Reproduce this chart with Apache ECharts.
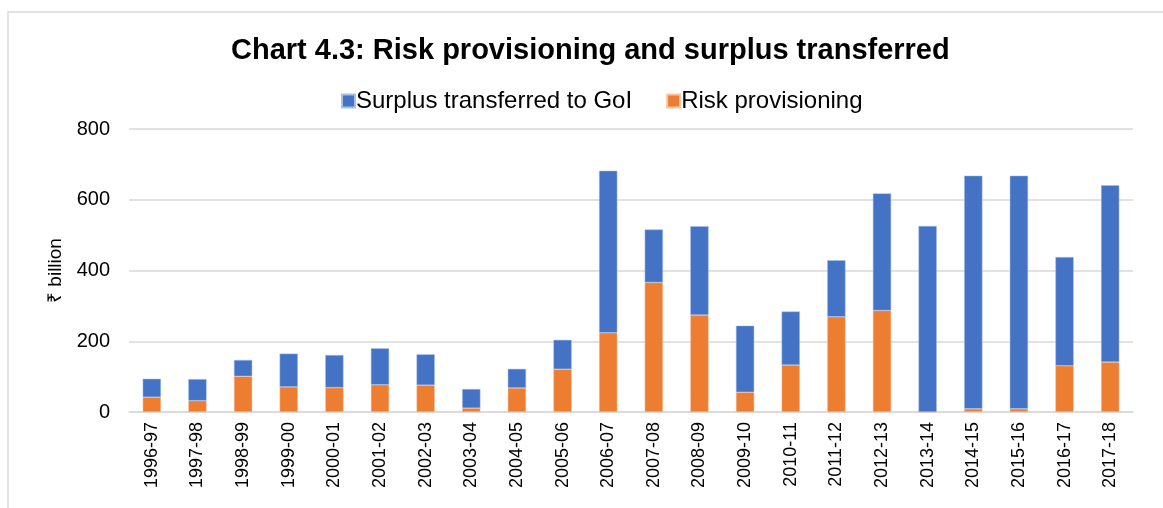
<!DOCTYPE html>
<html>
<head>
<meta charset="utf-8">
<script src="https://cdn.jsdelivr.net/npm/echarts@6/dist/echarts.min.js"></script>
<style>
html,body{margin:0;padding:0;background:#fff;}
#chart{width:1163px;height:508px;}
</style>
</head>
<body>
<div id="chart"></div>
<script>
const categories = ["1996-97","1997-98","1998-99","1999-00","2000-01","2001-02","2002-03","2003-04","2004-05","2005-06","2006-07","2007-08","2008-09","2009-10","2010-11","2011-12","2012-13","2013-14","2014-15","2015-16","2016-17","2017-18"];
const riskProvisioning = [42,32,101,71,69,77,76,11,68,121,224,366,274,56,133,269,287,0,9,9,131,141];
const surplusTransferred = [52,61,46,94,92,103,87,54,54,83,458,150,251,188,151,160,331,526,659,659,307,500];
const yTicks = [0,200,400,600,800];

const chart = echarts.init(document.getElementById('chart'), null, {renderer:'canvas'});
const font = 'Arial, "Liberation Sans", sans-serif';
chart.setOption({
  animation:false,
  backgroundColor:'#fff',
  graphic:[{type:'rect',shape:{x:8,y:12,width:1170,height:520},style:{fill:'none',stroke:'#d9d9d9',lineWidth:1.5},silent:true}],
  title:{text:'Chart 4.3: Risk provisioning and surplus transferred',left:226,top:31,
    textStyle:{fontFamily:font,fontWeight:'bold',fontSize:29,color:'#000'}},
  legend:{data:['Surplus transferred to GoI','Risk provisioning'],top:84,left:336,
    itemWidth:13,itemHeight:13,itemGap:34,icon:'rect',
    textStyle:{fontFamily:font,fontSize:24,color:'#000',padding:[0,0,0,-4]}},
  grid:{left:129,right:30,top:129,bottom:96,containLabel:false},
  xAxis:{type:'category',data:categories,
    axisLine:{lineStyle:{color:'#d9d9d9',width:1.5}},axisTick:{show:false},
    axisLabel:{rotate:90,fontFamily:font,fontSize:18,color:'#000',margin:10,interval:0}},
  yAxis:{type:'value',min:yTicks[0],max:yTicks[yTicks.length-1],interval:200,
    name:'₹ billion',nameLocation:'middle',nameGap:60,nameRotate:90,
    nameTextStyle:{fontFamily:font,fontSize:19,color:'#000'},
    axisLine:{show:false},axisTick:{show:false},
    axisLabel:{fontFamily:font,fontSize:20,color:'#000',margin:19},
    splitLine:{lineStyle:{color:'#d9d9d9',width:1.5}}},
  series:[
    {name:'Risk provisioning',type:'bar',stack:'a',data:riskProvisioning,barWidth:'40%',
      itemStyle:{color:'#ED7D31',borderColor:'#f6c6a6',borderWidth:0.5}},
    {name:'Surplus transferred to GoI',type:'bar',stack:'a',data:surplusTransferred,barWidth:'40%',
      itemStyle:{color:'#4472C4',borderColor:'#a9bfe6',borderWidth:0.5}}
  ]
});
</script>
</body>
</html>
